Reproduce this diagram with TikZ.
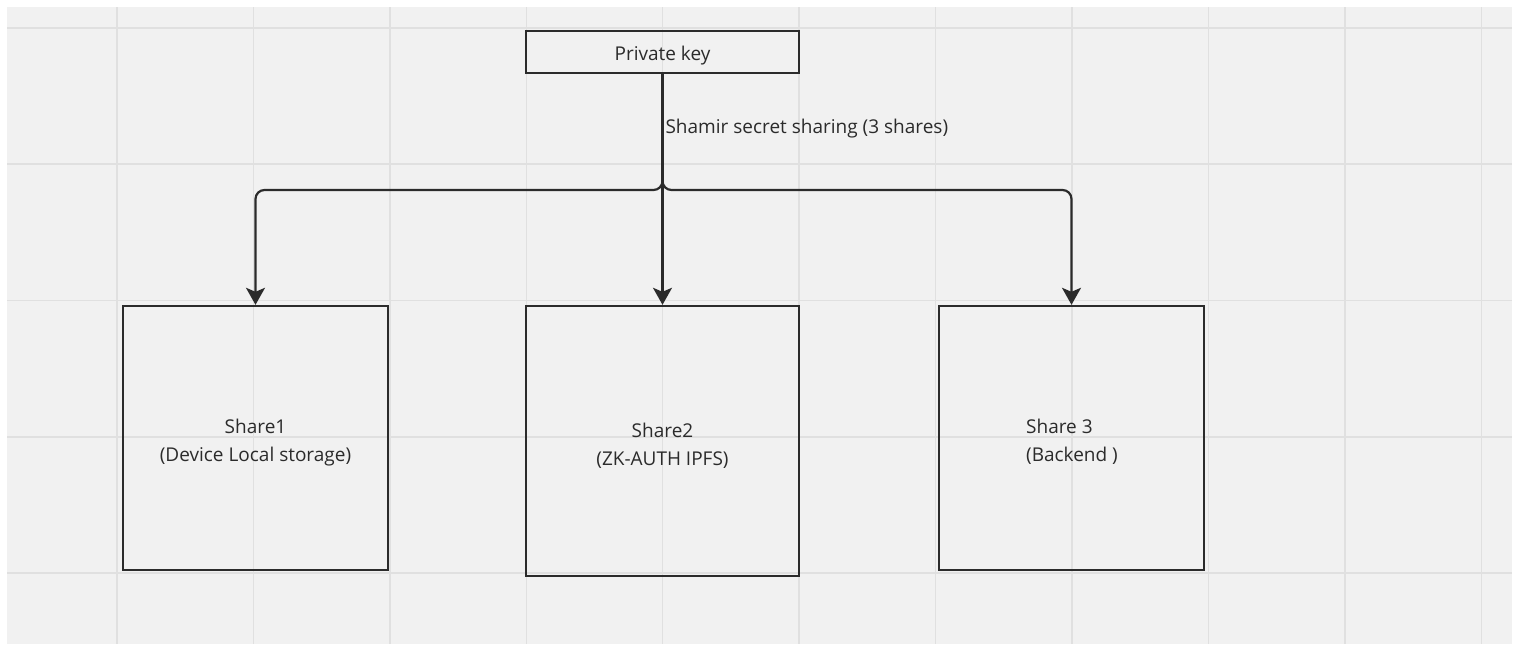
\documentclass[tikz,border=0pt]{standalone}
\usepackage{fontspec}
\setmainfont{Open Sans}
\usepackage{tikz}
\usetikzlibrary{arrows.meta}
\definecolor{boardgrey}{HTML}{F1F1F1}
\definecolor{gridgrey}{HTML}{E0E0E0}
\definecolor{inkgrey}{HTML}{2B2B2B}

\begin{document}
\begin{tikzpicture}[x=1pt,y=-1pt,font=\fontsize{19}{28}\selectfont]
\tikzset{keybox/.style={draw=inkgrey,line width=2.4pt,inner sep=0pt},
         sharebox/.style={keybox},
         link/.style={draw=inkgrey,line width=2.2pt,rounded corners=9pt},
         tip/.style={-{Stealth[length=17pt,width=19pt,inset=4pt]}},
         boxtext/.style={text=inkgrey,align=center}}
% board and grid
\fill[white] (0,0) rectangle (1518,649);
\useasboundingbox (0,0) rectangle (1518,649);
\fill[boardgrey] (7,7) rectangle (1512,644);
\foreach \gx in {117,253.5,390,526.5,662.5,799,935.5,1072,1208.5,1345,1481.5}
  \draw[gridgrey,line width=1.2pt] (\gx,7) -- (\gx,644);
\foreach \gy in {28,164,300.5,437,573}
  \draw[gridgrey,line width=1.2pt] (7,\gy) -- (1512,\gy);
% boxes
\node[keybox,minimum width=273pt,minimum height=42pt] (key) at (662.5,52) {};
\node[text=inkgrey] at ([yshift=-4pt]key.center) {Private key};
\node[sharebox,minimum width=265pt,minimum height=264pt] (share1) at (255.5,438) {};
\node[sharebox,minimum width=273pt,minimum height=270pt] (share2) at (662.5,441) {};
\node[sharebox,minimum width=265pt,minimum height=264pt] (share3) at (1071.5,438) {};
\node[boxtext] (t1) at (255.5,443) {Share1\\(Device Local storage)};
\node[boxtext] (t2) at (662.5,446) {Share2\\(ZK-AUTH IPFS)};
\node[boxtext,align=left] (t3) at (1072,442) {Share 3\\(Backend )};
% split
\coordinate (split) at (662.5,190);
\draw[link,tip] (key.south) -- (share2.north);
\draw[link,tip] (key.south) -- (split) -| (share1.north);
\draw[link,tip] (key.south) -- (split) -| (share3.north);
\node[text=inkgrey,anchor=west] (ssslabel) at (662,129) {Shamir secret sharing (3 shares)};
\end{tikzpicture}
\end{document}
